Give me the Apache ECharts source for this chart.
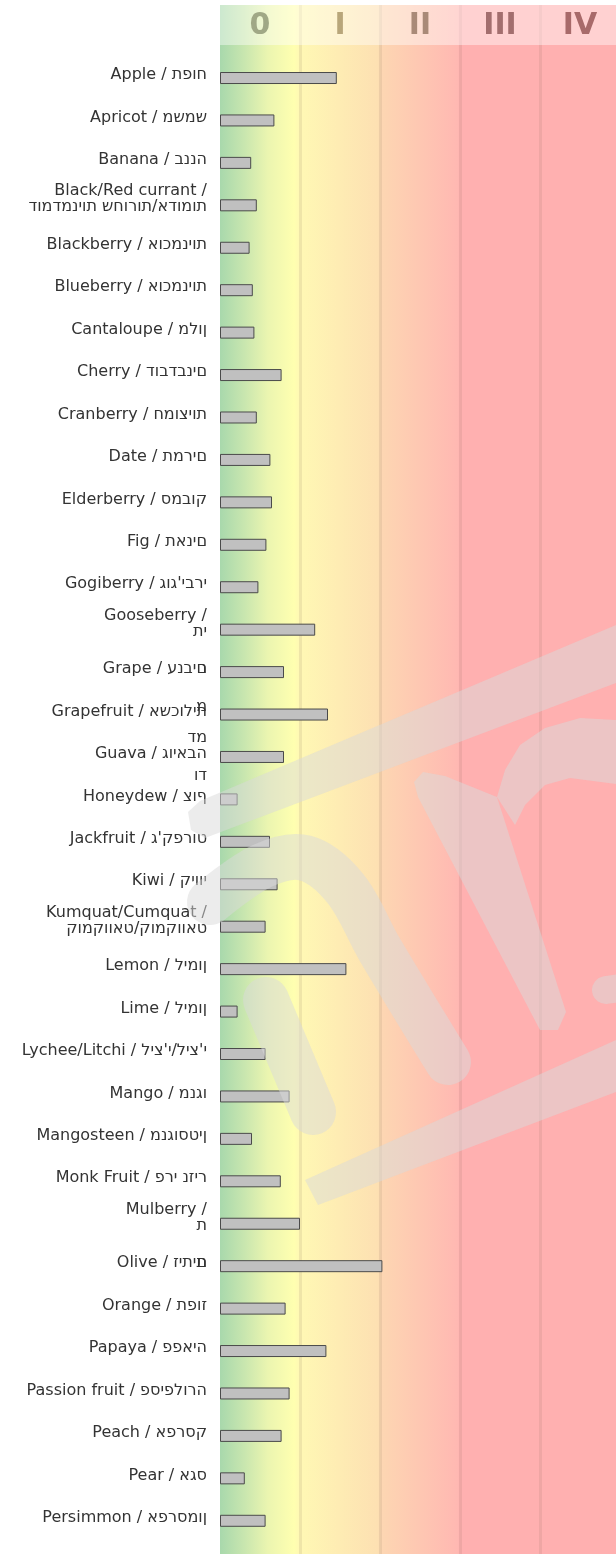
<!DOCTYPE html>
<html>
<head>
<meta charset="utf-8">
<script src="https://cdn.jsdelivr.net/npm/echarts@6/dist/echarts.min.js"></script>
<style>
  html, body { margin: 0; padding: 0; background: #fff; }
  #chart { width: 616px; height: 1554px; }
</style>
</head>
<body>
<div id="chart"></div>
<script>
// 分类标签（英文 / 希伯来文）
const categories = [
  'Apple / תפוח', 'Apricot / משמש', 'Banana / בננה',
  'Black/Red currant /\nדומדמניות שחורות/אדומות',
  'Blackberry / אוכמניות', 'Blueberry / אוכמניות', 'Cantaloupe / מלון',
  'Cherry / דובדבנים', 'Cranberry / חמוציות', 'Date / תמרים',
  'Elderberry / סמבוק', 'Fig / תאנים', "Gogiberry / גוג'יברי",
  'Gooseberry /\nתי', 'Grape / ענבים', 'Grapefruit / אשכולית',
  'Guava / גויאבה', 'Honeydew / צוף', "Jackfruit / ג'קפרוט", 'Kiwi / קיווי',
  'Kumquat/Cumquat /\nקומקוואט/קומקוואט', 'Lemon / לימון', 'Lime / לימון',
  "Lychee/Litchi / ליצ'י/ליצ'י", 'Mango / מנגו', 'Mangosteen / מנגוסטין',
  'Monk Fruit / פרי נזיר', 'Mulberry /\nת', 'Olive / זיתים', 'Orange / תפוז',
  'Papaya / פפאיה', 'Passion fruit / פסיפלורה', 'Peach / אפרסק', 'Pear / אגס',
  'Persimmon / אפרסמון'
];

// 数值（以等级 0..IV 为单位）
const values = [
  1.46, 0.68, 0.39, 0.46, 0.37, 0.41, 0.43, 0.77, 0.46, 0.63,
  0.65, 0.58, 0.48, 1.19, 0.80, 1.35, 0.80, 0.22, 0.625, 0.72,
  0.57, 1.58, 0.22, 0.57, 0.87, 0.40, 0.76, 1.00, 2.03, 0.82,
  1.33, 0.87, 0.77, 0.31, 0.57
];

// 顶部等级刻度
const levelLabels = ['0', 'I', 'II', 'III', 'IV'];
const levelColors = ['#a0a886', '#b8a67a', '#a98a78', '#a36e6e', '#a86a6a'];

// 标签上重叠的残字
const overlapIndex = [14, 15, 16, 17, 28];
const overlapGlyphs = ['נ', 'מ', 'מד', 'דו', 'ת'];
const overlapStyle = ['r3', 'r8', 'r19', 'r24', 'r3'];

const FONT = 'DejaVu Sans';
const wm = 'rgba(217,217,217,0.5)';

// canvas 不做双向排版，希伯来文按视觉顺序反转
const visualLine = (s) =>
  s.replace(/[\u0590-\u05FF](?:[\u0590-\u05FF'\/ ]*[\u0590-\u05FF'])?/g,
    (m) => m.split('').reverse().join(''));

const chart = echarts.init(document.getElementById('chart'));

const bgGradient = new echarts.graphic.LinearGradient(0, 0, 1, 0, [
  { offset: 0, color: '#a8d8ac' },
  { offset: 0.06, color: '#c8e6af' },
  { offset: 0.12, color: '#ebf5b0' },
  { offset: 0.185, color: '#ffffb0' },
  { offset: 0.2, color: '#fff8b4' },
  { offset: 0.395, color: '#fde0b2' },
  { offset: 0.405, color: '#fdd6b2' },
  { offset: 0.595, color: '#ffb8b2' },
  { offset: 0.6, color: '#ffb0b0' },
  { offset: 1, color: '#ffb0b0' }
]);

const gridPos = { left: 220, right: -4, containLabel: false, outerBoundsMode: 'none' };

const option = {
  animation: false,
  grid: [
    Object.assign({ top: 5, bottom: 0, show: true, backgroundColor: bgGradient, borderWidth: 0 }, gridPos),
    Object.assign({ top: 56.8, bottom: 12 }, gridPos),
    Object.assign({ top: 56.8, bottom: 12 }, gridPos)
  ],
  xAxis: [
    {
      gridIndex: 0, type: 'value', min: 0, max: 5, interval: 1,
      axisLine: { show: false }, axisTick: { show: false }, axisLabel: { show: false },
      splitLine: {
        show: true, showMinLine: false, showMaxLine: false,
        lineStyle: { color: 'rgba(120,100,80,0.12)', width: 3 }
      }
    },
    {
      gridIndex: 0, type: 'category', position: 'top', offset: -21, z: 10,
      data: levelLabels, boundaryGap: true,
      axisLine: { show: false }, axisTick: { show: false }, splitLine: { show: false },
      axisLabel: {
        interval: 0, margin: 0, verticalAlign: 'middle',
        fontSize: 30, fontWeight: 'bold', fontFamily: FONT,
        color: (v, i) => levelColors[i]
      }
    },
    { gridIndex: 1, type: 'value', min: 0, max: 5, show: false },
    { gridIndex: 2, type: 'value', min: 0, max: 5, show: false }
  ],
  yAxis: [
    { gridIndex: 0, type: 'value', show: false },
    {
      gridIndex: 1, type: 'category', inverse: true, data: categories,
      axisLine: { show: false }, axisTick: { show: false }, splitLine: { show: false },
      axisLabel: {
        interval: 0, margin: 13,
        formatter: (v) => {
          const lines = v.split('\n').map((l) => '{a|' + visualLine(l) + '}');
          return lines.length > 1
            ? lines.join('\n') + '\n{t| }'
            : lines[0] + '\n{s| }';
        },
        rich: {
          a: { fontSize: 16, fontFamily: FONT, color: '#333', lineHeight: 16 },
          s: { fontSize: 4, lineHeight: 6 },
          t: { fontSize: 4, lineHeight: 12 }
        }
      }
    },
    {
      gridIndex: 2, type: 'category', inverse: true, data: categories,
      axisLine: { show: false }, axisTick: { show: false }, splitLine: { show: false },
      axisLabel: {
        interval: 0, margin: 13,
        formatter: (v, i) => {
          const k = overlapIndex.indexOf(i);
          if (k < 0) return '';
          return '{g|' + overlapGlyphs[k] + '}\n{' + overlapStyle[k] + '| }';
        },
        rich: {
          g: { fontSize: 16, fontFamily: FONT, color: '#333', lineHeight: 16 },
          r3: { fontSize: 4, lineHeight: 6 },
          r8: { fontSize: 4, lineHeight: 16 },
          r19: { fontSize: 4, lineHeight: 38 },
          r24: { fontSize: 4, lineHeight: 48 }
        }
      }
    }
  ],
  series: [
    {
      type: 'bar', xAxisIndex: 2, yAxisIndex: 1,
      data: values, barWidth: 12,
      itemStyle: { color: '#c0c0c0', borderColor: '#4a4a4a', borderWidth: 1 }
    }
  ],
  graphic: [
    { type: 'rect', z: 5, silent: true, shape: { x: 220, y: 5, width: 400, height: 40 },
      style: { fill: 'rgba(255,255,255,0.42)' } },
    { type: 'polygon', z: 100, silent: true,
      shape: { points: [[188, 812], [200, 801], [616, 625], [616, 683], [205, 838], [191, 830]] },
      style: { fill: wm } },
    { type: 'polygon', z: 100, silent: true,
      shape: { points: [[305, 1180], [616, 1040], [616, 1092], [318, 1205]] },
      style: { fill: wm } },
    { type: 'polyline', z: 100, silent: true,
      shape: { points: [[210, 902], [262, 866], [305, 858], [345, 888], [380, 950], [448, 1062]], smooth: 0.35 },
      style: { stroke: wm, lineWidth: 46, lineCap: 'round', lineJoin: 'round', fill: null } },
    { type: 'line', z: 100, silent: true,
      shape: { x1: 266, y1: 1000, x2: 313, y2: 1112 },
      style: { stroke: wm, lineWidth: 46, lineCap: 'round' } },
    { type: 'polygon', z: 100, silent: true,
      shape: { points: [[423, 772], [445, 776], [497, 797], [566, 1012], [558, 1030], [540, 1030], [418, 797], [414, 782]] },
      style: { fill: wm } },
    { type: 'polygon', z: 100, silent: true,
      shape: { points: [[497, 797], [505, 770], [520, 745], [545, 728], [580, 718], [616, 720], [616, 784], [570, 778], [545, 785], [525, 805], [515, 825]] },
      style: { fill: wm } },
    { type: 'line', z: 100, silent: true,
      shape: { x1: 606, y1: 990, x2: 640, y2: 985 },
      style: { stroke: wm, lineWidth: 28, lineCap: 'round' } }
  ]
};

chart.setOption(option);
</script>
</body>
</html>
